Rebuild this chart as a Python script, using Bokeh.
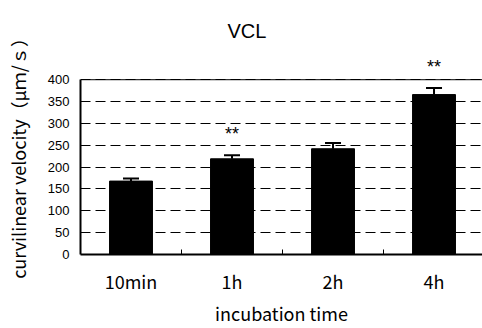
from bokeh.plotting import figure
from bokeh.models import FixedTicker, Whisker, ColumnDataSource, Label, TeeHead, Range1d, Span
from bokeh.embed import file_html
from bokeh.resources import INLINE

categories = ["10min", "1h", "2h", "4h"]
means = [168, 219, 242, 366]
errors = [6, 8, 13, 15]
marks = ["", "**", "", "**"]
y_ticks = [0, 50, 100, 150, 200, 250, 300, 350, 400]

xs = [i + 0.5 for i in range(len(categories))]
uppers = [m + e for m, e in zip(means, errors)]
src = ColumnDataSource(dict(x=xs, top=means, upper=uppers))

p = figure(width=482, height=328, output_backend="svg", toolbar_location=None,
           x_range=Range1d(0, 3.98), y_range=Range1d(0, 460),
           frame_width=402, frame_height=201,
           min_border_left=80, min_border_right=0, min_border_top=53, min_border_bottom=74)
p.background_fill_color = "white"
p.border_fill_color = "white"
p.outline_line_color = None

p.title.text = "VCL"
p.title.text_font = "Liberation Sans"
p.title.text_font_size = "20px"
p.title.text_font_style = "normal"
p.title.text_color = "black"
p.title.align = "left"
p.title.offset = 147
p.title.standoff = 24

p.vbar(x="x", top="top", width=0.425, source=src, fill_color="black", line_color="black")
p.add_layout(Whisker(base="x", upper="upper", lower="top", source=src, dimension="height",
                     line_color="black", line_width=2,
                     upper_head=TeeHead(size=16, line_width=2, line_color="black"),
                     lower_head=None))

for x, u, m in zip(xs, uppers, marks):
    if m:
        p.add_layout(Label(x=x, y=u, text=m, text_align="center", text_baseline="middle",
                           y_offset=21, text_font="Liberation Sans", text_font_size="18px",
                           text_color="black"))

p.add_layout(Span(location=y_ticks[-1], dimension="width", line_color="black", line_width=1))

xa = p.xaxis[0]
xa.ticker = FixedTicker(ticks=xs, minor_ticks=[1, 2, 3])
xa.major_label_overrides = {x: c for x, c in zip(xs, categories)}
xa.major_tick_in = 0
xa.major_tick_out = 0
xa.minor_tick_in = 5
xa.minor_tick_out = 0
xa.minor_tick_line_color = "black"
xa.axis_line_width = 2
xa.axis_line_color = "black"
xa.major_label_text_font = "Noto Sans CJK JP"
xa.major_label_text_font_size = "18px"
xa.major_label_text_color = "black"
xa.major_label_standoff = 13
xa.axis_label = "incubation time"
xa.axis_label_text_font = "Noto Sans CJK JP"
xa.axis_label_text_font_size = "18px"
xa.axis_label_text_font_style = "normal"
xa.axis_label_text_color = "black"
xa.axis_label_standoff = 3

ya = p.yaxis[0]
ya.ticker = FixedTicker(ticks=y_ticks)
ya.bounds = (0, 400)
ya.minor_tick_line_color = None
ya.major_tick_in = 0
ya.major_tick_out = 0
ya.axis_line_width = 2
ya.axis_line_color = "black"
ya.major_label_text_font = "Liberation Sans"
ya.major_label_text_font_size = "13px"
ya.major_label_text_color = "black"
ya.major_label_standoff = 11
ya.axis_label = "curvilinear velocity（μｍ/ｓ）"
ya.axis_label_text_font = "Noto Sans CJK JP"
ya.axis_label_text_font_size = "18px"
ya.axis_label_text_font_style = "normal"
ya.axis_label_text_color = "black"
ya.axis_label_standoff = 14

p.xgrid.grid_line_color = None
p.ygrid.grid_line_color = "black"
p.ygrid.grid_line_dash = "10 5"
p.ygrid.grid_line_width = 1

open("out.html", "w").write(file_html(p, INLINE))
